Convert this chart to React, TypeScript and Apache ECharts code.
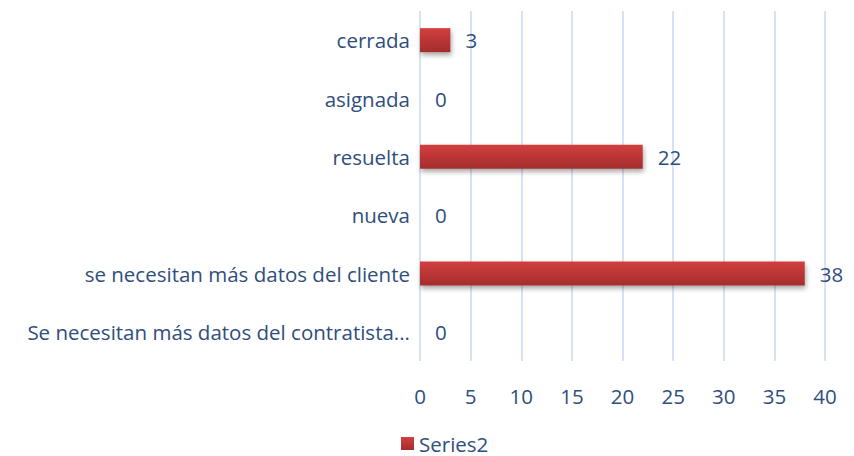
import React, { useEffect, useRef } from "react";
import * as echarts from "echarts";

const categories = [
  "Se necesitan más datos del contratista...",
  "se necesitan más datos del cliente",
  "nueva",
  "resuelta",
  "asignada",
  "cerrada",
];
const values = [0, 38, 0, 22, 0, 3];
const xTicks = { min: 0, max: 40, interval: 5 };
const seriesName = "Series2";

const textColor = "#2F4E7C";
const fontFamily = "'Open Sans', sans-serif";
const fs = 20.5;

export default function App() {
  const ref = useRef<HTMLDivElement>(null);
  useEffect(() => {
    if (!ref.current) return;
    const chart = echarts.init(ref.current, null, { renderer: "svg" });
    chart.setOption({
      animation: false,
      textStyle: { fontFamily },
      grid: { left: 420, right: 29, top: 11, bottom: 95, containLabel: false },
      legend: {
        data: [seriesName],
        left: 396,
        top: 428,
        itemWidth: 13,
        itemHeight: 13,
        itemGap: 4,
        icon: "rect",
        textStyle: { color: textColor, fontSize: fs, fontFamily },
      },
      xAxis: {
        type: "value",
        min: xTicks.min,
        max: xTicks.max,
        interval: xTicks.interval,
        axisLine: { show: false },
        axisTick: { show: false },
        axisLabel: { color: textColor, fontSize: fs, margin: 24, fontFamily },
        splitLine: { lineStyle: { color: "#D6E2F3", width: 2 } },
      },
      yAxis: {
        type: "category",
        data: categories,
        axisLine: { show: false },
        axisTick: { show: false },
        axisLabel: { color: textColor, fontSize: fs, margin: 10, fontFamily },
        splitLine: { show: false },
      },
      series: [
        {
          name: seriesName,
          type: "bar",
          data: values,
          barWidth: 24,
          itemStyle: {
            color: new echarts.graphic.LinearGradient(0, 0, 0, 1, [
              { offset: 0, color: "#D33F3F" },
              { offset: 1, color: "#A42C2C" },
            ]),
            shadowBlur: 5,
            shadowOffsetX: 1,
            shadowOffsetY: 3,
            shadowColor: "rgba(0,0,0,0.35)",
          },
          label: {
            show: true,
            position: "right",
            distance: 15,
            color: textColor,
            fontSize: fs,
            fontFamily,
          },
        },
      ],
    });
    return () => chart.dispose();
  }, []);
  return <div ref={ref} style={{ width: 854, height: 456, position: "absolute", left: 0, top: 0 }} />;
}
